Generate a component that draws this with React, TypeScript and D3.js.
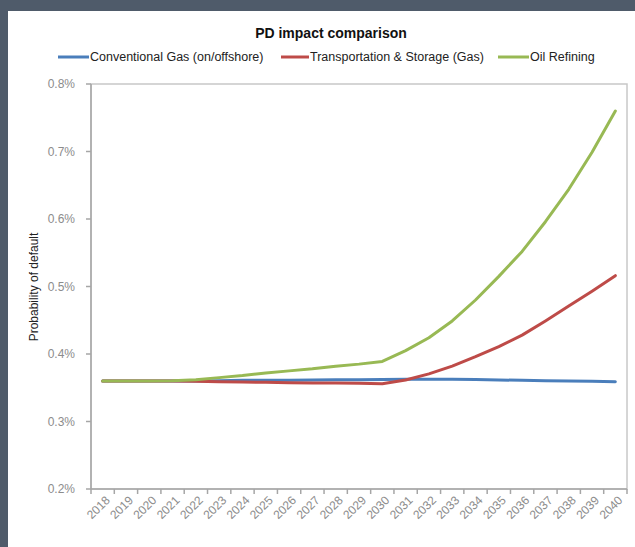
import * as d3 from "d3";

const YEARS = [
  "2018", "2019", "2020", "2021", "2022", "2023", "2024", "2025", "2026", "2027", "2028", "2029",
  "2030", "2031", "2032", "2033", "2034", "2035", "2036", "2037", "2038", "2039", "2040",
];

// probability of default, in percent
const CONVENTIONAL_GAS = [
  0.36, 0.36, 0.36, 0.36, 0.36, 0.3605, 0.361, 0.361, 0.3612, 0.3615, 0.362, 0.362,
  0.3622, 0.3625, 0.3625, 0.3625, 0.3622, 0.3615, 0.361, 0.3605, 0.36, 0.3595, 0.359,
];
const TRANSPORT_STORAGE = [
  0.36, 0.36, 0.36, 0.36, 0.3595, 0.359, 0.3585, 0.358, 0.3575, 0.357, 0.357, 0.3565,
  0.356, 0.3615, 0.3705, 0.382, 0.396, 0.411, 0.428, 0.449, 0.471, 0.493, 0.516,
];
const OIL_REFINING = [
  0.36, 0.36, 0.36, 0.3605, 0.362, 0.365, 0.368, 0.372, 0.375, 0.378, 0.382, 0.385,
  0.389, 0.405, 0.424, 0.449, 0.48, 0.515, 0.552, 0.596, 0.644, 0.699, 0.76,
];
const Y_TICKS = [0.2, 0.3, 0.4, 0.5, 0.6, 0.7, 0.8];

const SERIES = [
  { name: "Conventional Gas (on/offshore)", values: CONVENTIONAL_GAS, color: "#4a7ebb" },
  { name: "Transportation & Storage (Gas)", values: TRANSPORT_STORAGE, color: "#be4b48" },
  { name: "Oil Refining", values: OIL_REFINING, color: "#98b954" },
];

const W = 635;
const H = 547;
const plot = { left: 91, right: 627, top: 84, bottom: 489 };
const FONT = "'Liberation Sans', Arial, sans-serif";
const AXIS = "#a6a6a6";
const LABEL = "#8c8c8c";

const legendPos = [
  { x: 58, len: 31 },
  { x: 281, len: 28 },
  { x: 498, len: 31 },
];

export default function App() {
  const x = d3.scaleBand<string>().domain(YEARS).range([plot.left, plot.right]).padding(0);
  const y = d3.scaleLinear().domain([0.2, 0.8]).range([plot.bottom, plot.top]);
  const cx = (i: number) => (x(YEARS[i]) ?? 0) + x.bandwidth() / 2;

  const line = d3
    .line<number>()
    .x((_, i) => cx(i))
    .y((d) => y(d));

  const boundaries = [...YEARS.map((yr) => x(yr) ?? 0), plot.right];

  return (
    <svg
      width={W}
      height={H}
      style={{ position: "fixed", left: 0, top: 0 }}
      fontFamily={FONT}
    >
      <rect x={0} y={0} width={W} height={H} fill="#4f5b6a" />
      <rect x={8} y={11} width={W - 8} height={H - 11} fill="#ffffff" />

      <text x={331} y={38} textAnchor="middle" fontSize={14} fontWeight="bold" fill="#111">
        PD impact comparison
      </text>

      {SERIES.map((s, i) => (
        <g key={s.name}>
          <line
            x1={legendPos[i].x}
            x2={legendPos[i].x + legendPos[i].len}
            y1={57}
            y2={57}
            stroke={s.color}
            strokeWidth={3}
          />
          <text x={legendPos[i].x + legendPos[i].len + 1} y={61} fontSize={12.5} fill="#222">
            {s.name}
          </text>
        </g>
      ))}

      {/* plot frame */}
      <rect
        x={plot.left}
        y={plot.top}
        width={plot.right - plot.left}
        height={plot.bottom - plot.top}
        fill="none"
        stroke="#c8c8c8"
        strokeWidth={1.5}
      />
      <line x1={plot.left} x2={plot.left} y1={plot.top} y2={plot.bottom} stroke={AXIS} strokeWidth={1.5} />
      <line x1={plot.left} x2={plot.right} y1={plot.bottom} y2={plot.bottom} stroke={AXIS} strokeWidth={1.5} />

      {Y_TICKS.map((t) => (
        <g key={t}>
          <line x1={plot.left - 5} x2={plot.left} y1={y(t)} y2={y(t)} stroke={AXIS} strokeWidth={1.5} />
          <text x={plot.left - 16} y={y(t)} dy="0.35em" textAnchor="end" fontSize={12} fill={LABEL}>
            {`${t.toFixed(1)}%`}
          </text>
        </g>
      ))}

      {boundaries.map((b, i) => (
        <line key={i} x1={b} x2={b} y1={plot.bottom} y2={plot.bottom + 5} stroke={AXIS} strokeWidth={1.5} />
      ))}

      {YEARS.map((yr, i) => (
        <text
          key={yr}
          transform={`translate(${cx(i) + 5},${plot.bottom + 9}) rotate(-45)`}
          dy="0.35em"
          textAnchor="end"
          fontSize={12}
          fill={LABEL}
        >
          {yr}
        </text>
      ))}

      <text
        transform={`translate(38,287) rotate(-90)`}
        textAnchor="middle"
        fontSize={12}
        fill="#222"
      >
        Probability of default
      </text>

      {SERIES.map((s) => (
        <path
          key={s.name}
          d={line(s.values) ?? ""}
          fill="none"
          stroke={s.color}
          strokeWidth={3}
          strokeLinejoin="round"
          strokeLinecap="round"
        />
      ))}
    </svg>
  );
}
